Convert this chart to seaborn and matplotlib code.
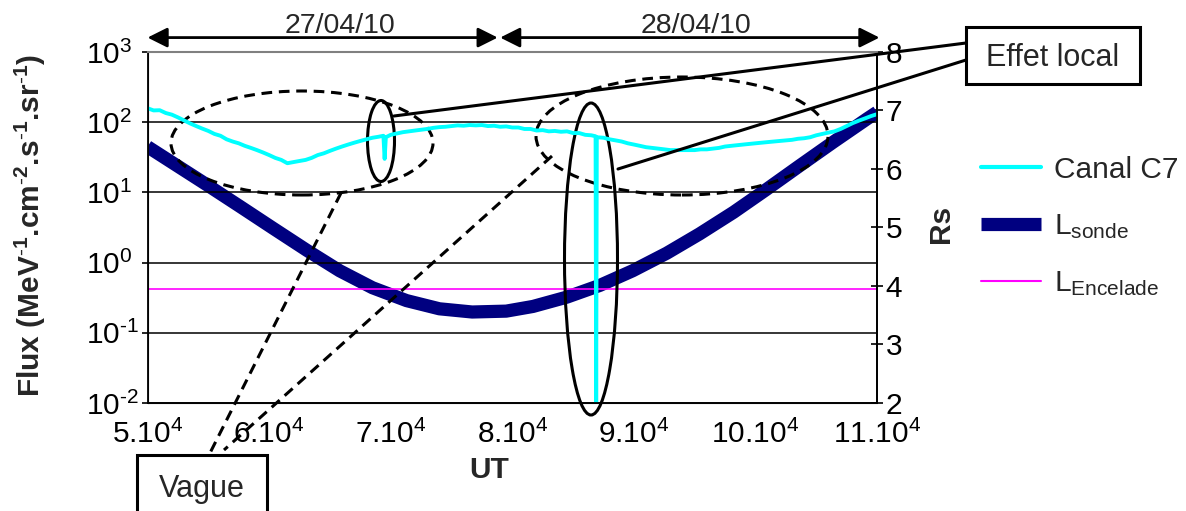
import numpy as np
import pandas as pd
import seaborn as sns
import matplotlib.pyplot as plt
from matplotlib.patches import Ellipse, Rectangle
from matplotlib.lines import Line2D

# Data (UT in units of 1000 s)
ut_c7_k = [50, 50.5, 51, 51.5, 52, 52.5, 53, 53.5, 54, 54.5, 55, 55.5, 56, 56.5,
           57, 57.5, 58, 58.5, 59, 59.5, 60, 60.5, 61, 61.5, 62, 62.5, 63, 63.5,
           64, 64.5, 65, 65.5, 66, 66.5, 67, 67.5, 68, 68.5, 69, 69.4, 69.5, 69.6,
           70, 70.5, 71, 71.5, 72, 72.5, 73, 73.5, 74, 74.5, 75, 75.5, 76, 76.5,
           77, 77.5, 78, 78.5, 79, 79.5, 80, 80.5, 81, 81.5, 82, 82.5, 83, 83.5,
           84, 84.5, 85, 85.5, 86, 86.5, 86.85, 86.9, 86.95, 87.5, 88, 88.5, 89,
           89.5, 90, 90.5, 91, 91.5, 92, 92.5, 93, 93.5, 94, 94.5, 95, 95.5, 96,
           96.5, 97, 97.5, 98, 98.5, 99, 99.5, 100, 100.5, 101, 101.5, 102, 102.5,
           103, 103.5, 104, 104.5, 105, 105.5, 106, 106.5, 107, 107.5, 108, 108.5,
           109, 109.5, 110]
flux_c7 = [158, 147, 148, 135, 128, 117, 106, 96, 88, 81, 75, 68, 64, 57,
           53, 50, 46, 43, 40, 37, 34, 31, 29, 26, 27, 28, 29, 31,
           34, 36, 39, 42, 45, 48, 51, 54, 57, 60, 62, 64, 30, 61,
           66, 69, 72, 74, 76, 78, 80, 83, 85, 86, 88, 90, 89, 91,
           90, 91, 88, 89, 86, 87, 84, 84, 80, 80, 76, 77, 74, 75,
           73, 74, 70, 70, 66, 65, 63, 0.01, 61, 60, 57, 55, 53,
           50, 48, 46, 44, 43, 42, 41, 40, 40, 40, 40, 40, 41, 41,
           42, 43, 45, 46, 47, 48, 49, 50, 51, 52, 53, 54, 55,
           56, 58, 59, 61, 65, 68, 71, 74, 80, 88, 97, 105,
           113, 122, 130]

ut_sonde_k = [50.0, 52.1, 54.8, 57.6, 60.3, 63.1, 65.8, 68.5, 71.3, 74.0, 76.7, 79.5,
              81.7, 84.5, 87.2, 89.9, 92.7, 95.4, 98.2, 100.9, 103.6, 106.4, 109.2, 110.0]
rs_sonde = [6.38, 6.10, 5.74, 5.36, 4.99, 4.61, 4.26, 3.97, 3.75, 3.61, 3.555, 3.57,
            3.65, 3.81, 4.01, 4.26, 4.56, 4.89, 5.26, 5.65, 6.05, 6.46, 6.86, 6.97]

l_encelade = 3.95

ut_ticks = [50000, 60000, 70000, 80000, 90000, 100000, 110000]
ut_ticklabels = ['5.10$^4$', '6.10$^4$', '7.10$^4$', '8.10$^4$',
                 '9.10$^4$', '10.10$^4$', '11.10$^4$']
flux_ticks = [0.01, 0.1, 1, 10, 100, 1000]
flux_ticklabels = [r'10$^{\text{-2}}$', r'10$^{\text{-1}}$', '10$^{0}$',
                   '10$^{1}$', '10$^{2}$', '10$^{3}$']
rs_ticks = [2, 3, 4, 5, 6, 7, 8]

days = ['27/04/10', '28/04/10']
day_spans = [(50000, 78800), (79000, 110200)]
day_label_x = [65800, 95100]

legend_labels = ['Canal C7', r'$\mathrm{L_{sonde}}$', r'$\mathrm{L_{Encelade}}$']

df_c7 = pd.DataFrame({'UT': np.array(ut_c7_k) * 1000, 'flux': flux_c7})
df_sonde = pd.DataFrame({'UT': np.array(ut_sonde_k) * 1000, 'Rs': rs_sonde})

# Style
sns.set_style('white')
plt.rcParams['font.family'] = ['Liberation Sans', 'DejaVu Sans']
plt.rcParams['mathtext.fontset'] = 'custom'
plt.rcParams['mathtext.rm'] = 'Liberation Sans'
plt.rcParams['mathtext.it'] = 'Liberation Sans:italic'
plt.rcParams['mathtext.bf'] = 'Liberation Sans:bold'

W, H = 1186, 511
fig = plt.figure(figsize=(W / 100, H / 100), dpi=100)
ax = fig.add_axes([0.1244, 0.2114, 0.6151, 0.6869])
ax2 = ax.twinx()

c_cyan = '#00FFFF'
c_navy = '#000080'
c_mag = '#FF00FF'
fs = 21.5

# Lines
sns.lineplot(data=df_sonde, x='UT', y='Rs', ax=ax2, color=c_navy, lw=9.5,
             solid_capstyle='butt', solid_joinstyle='round', estimator=None, legend=False)
ax2.axhline(l_encelade, color=c_mag, lw=1.2)
sns.lineplot(data=df_c7, x='UT', y='flux', ax=ax, color=c_cyan, lw=2.8,
             estimator=None, legend=False)

ax.set_zorder(ax2.get_zorder() + 1)
ax.patch.set_visible(False)

# Left axis (log flux)
ax.set_xlim(50000, 110000)
ax.set_yscale('log')
ax.set_ylim(0.01, 1000)
ax.set_xticks(ut_ticks)
ax.set_xticklabels(ut_ticklabels, fontsize=fs)
ax.set_yticks(flux_ticks)
ax.set_yticklabels(flux_ticklabels, fontsize=fs)
ax.minorticks_off()
ax.tick_params(axis='x', direction='out', length=4, width=1.2, pad=8, colors='black')
ax.tick_params(axis='y', direction='out', length=4, width=1.2, pad=40, colors='black')
for lab in ax.get_yticklabels():
    lab.set_horizontalalignment('left')
ax.grid(axis='y', which='major', color='black', lw=1.1)
ax.grid(axis='x', visible=False)

for side in ['left', 'bottom', 'right']:
    ax.spines[side].set_color('black')
    ax.spines[side].set_linewidth(1.3)
ax.spines['top'].set_color('#808080')
ax.spines['top'].set_linewidth(1.5)
ax2.spines['right'].set_color('black')
ax2.spines['right'].set_linewidth(1.3)
ax2.spines['top'].set_visible(False)

ax.set_xlabel('UT', fontsize=fs, fontweight='bold')
ax.xaxis.set_label_coords(0.469, -0.15)
ax.set_ylabel(r'Flux (MeV$^{\mathbf{\text{-}1}}$.cm$^{\mathbf{\text{-}2}}$.s$^{\mathbf{\text{-}1}}$.sr$^{\mathbf{\text{-}1}}$)',
              fontsize=21.5, fontweight='bold')
ax.yaxis.set_label_coords(-0.137, 0.507)

# Right axis (Rs)
ax2.set_ylim(2, 8)
ax2.set_yticks(rs_ticks)
ax2.set_yticklabels([str(t) for t in rs_ticks], fontsize=fs)
ax2.tick_params(axis='y', direction='inout', length=8, width=1.2, pad=2, colors='black')
ax2.set_ylabel('Rs', fontsize=fs, fontweight='bold')
ax2.yaxis.set_label_coords(1.069, 0.511)
ax2.set_xlabel('')
ax2.grid(False)

# Date arrows on top
xtr = ax.get_xaxis_transform()
for day, (x0, x1), xl in zip(days, day_spans, day_label_x):
    ax.annotate('', xy=(x1, 1.041), xytext=(x0, 1.041), xycoords=xtr, textcoords=xtr,
                annotation_clip=False,
                arrowprops=dict(arrowstyle='<|-|>,head_length=0.6,head_width=0.3',
                                mutation_scale=20, lw=2, color='black',
                                shrinkA=0, shrinkB=0))
    ax.text(xl, 1.075, day, transform=xtr, ha='center', va='center', fontsize=20.5)

# Legend
handles = [Line2D([], [], color=c_cyan, lw=3),
           Line2D([], [], color=c_navy, lw=9.5, solid_capstyle='butt'),
           Line2D([], [], color=c_mag, lw=1.5)]
fig.legend(handles, legend_labels, loc='upper left', bbox_to_anchor=(0.827, 0.695),
           frameon=False, fontsize=fs, handlelength=2.0, handletextpad=0.45,
           labelspacing=0.95, borderpad=0, borderaxespad=0)


# Annotations, placed in figure pixels of the original picture
def fx(x):
    return x / W


def fy(y):
    return 1 - y / H


def ellipse(cx, cy, w, h, dashed):
    ls = (0, (3.5, 2.2)) if dashed else '-'
    fig.add_artist(Ellipse((fx(cx), fy(cy)), w / W, h / H, transform=fig.transFigure,
                           fill=False, ec='black', lw=2.2, ls=ls))


def seg(x0, y0, x1, y1, dashed):
    ls = (0, (3.5, 2.2)) if dashed else '-'
    fig.add_artist(Line2D([fx(x0), fx(x1)], [fy(y0), fy(y1)], transform=fig.transFigure,
                          color='black', lw=2.2, ls=ls))


def box(x0, y0, x1, y1, label, ty):
    fig.add_artist(Rectangle((fx(x0), fy(y1)), (x1 - x0) / W, (y1 - y0) / H,
                             transform=fig.transFigure, fill=True, fc='white',
                             ec='black', lw=2.2))
    fig.text(fx((x0 + x1) / 2), fy(ty), label, ha='center', va='center', fontsize=22)


ellipse(302, 143, 262, 104, True)
ellipse(381, 141, 27, 81, False)
ellipse(682, 136, 292, 118, True)
ellipse(591, 259, 53, 312, False)

seg(394, 116, 966, 43, False)
seg(618, 169, 966, 60, False)
seg(341, 193, 210, 453, True)
seg(552, 156, 224, 450, True)

box(966, 27, 1140, 84, 'Effet local', 58)
box(137, 455, 267, 530, 'Vague', 489)

fig.savefig('out.png', dpi=100)
